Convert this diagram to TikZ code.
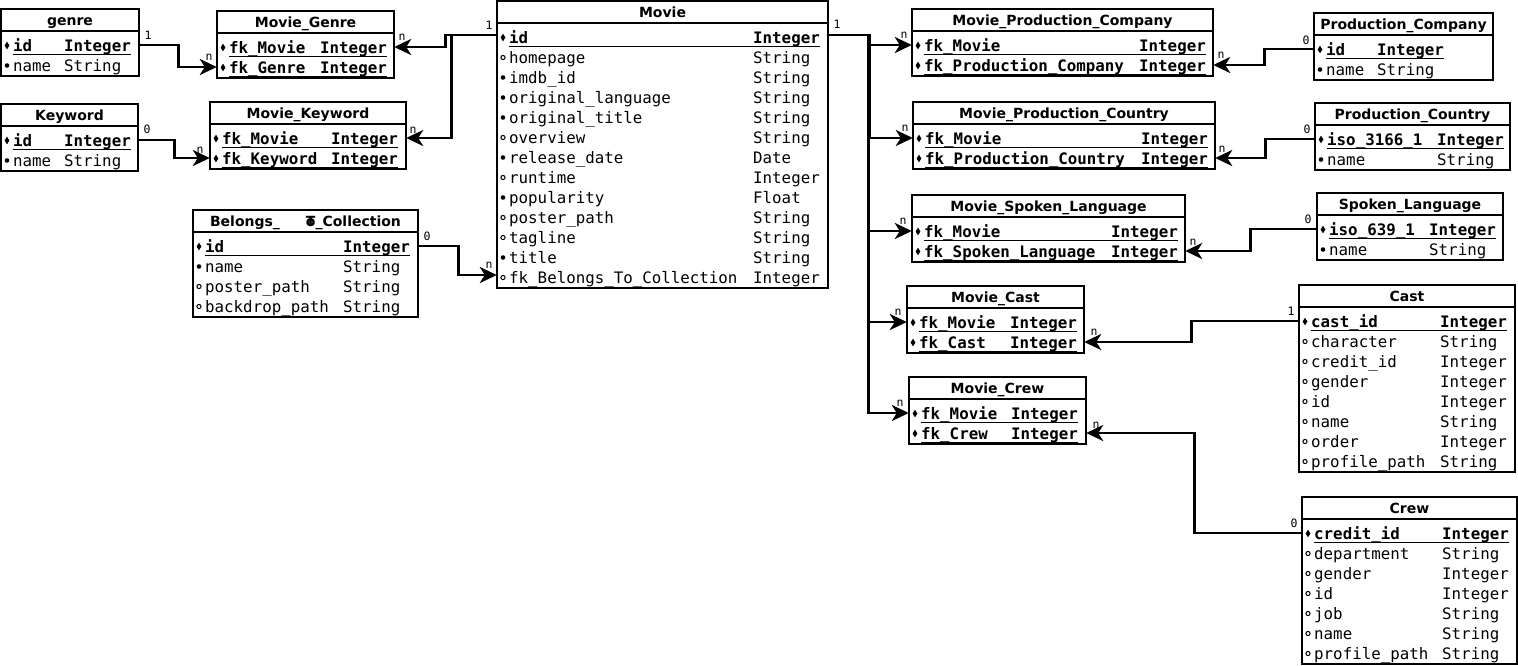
\documentclass[tikz,border=0pt]{standalone}
\usepackage{fontspec}
\setmainfont{DejaVu Sans}
\newfontfamily\monof{DejaVu Sans Mono}
\usetikzlibrary{arrows.meta}
\tikzset{
 tbox/.style={draw, line width=2.8pt, inner sep=0pt},
 sepline/.style={line width=2.8pt},
 ttl/.style={font=\bfseries\fontsize{14}{16}\selectfont, inner sep=0pt, anchor=base},
 attr/.style={font=\monof\fontsize{15.8}{18}\selectfont, inner sep=0pt, anchor=base west},
 kattr/.style={font=\monof\bfseries\fontsize{15.8}{18}\selectfont, inner sep=0pt, anchor=base west},
 ul/.style={line width=1.4pt},
 rowslot/.style={inner sep=0pt, minimum height=20pt},
 conn/.style={line width=2.8pt, -{Stealth[length=17pt,width=16pt,inset=5pt]}},
 card/.style={font=\monof\fontsize{11.5}{12}\selectfont, inner sep=0pt, anchor=center},
}
\newcommand\pkm[2]{\fill ({#1},{#2}) +(-2.4,0) -- +(0,3.8) -- +(2.4,0) -- +(0,-3.8) -- cycle;}
\newcommand\nnm[2]{\fill ({#1},{#2}) circle[radius=2.3pt];}
\newcommand\nlm[2]{\draw[line width=1pt] ({#1},{#2}) circle[radius=2.1pt];}
% table: #1 id, #2 x1, #3 top, #4 x2, #5 rows, #6 type x, #7 title
\newcommand\ERtable[7]{%
 \def\Tx{#2}\def\Ty{#3}\def\Txe{#4}\def\Tyx{#6}\def\Tid{#1}%
 \pgfmathsetmacro\Tyb{#3+36+20*(#5-1)+11}%
 \node[tbox, minimum width={#4-#2}, minimum height={\Tyb-#3}] (#1) at ({(#2+#4)/2},{(#3+\Tyb)/2}) {};
 \draw[sepline] (#2,{#3+22}) -- (#4,{#3+22});
 \node[ttl] (#1-title) at ({(#2+#4)/2},{#3+16.5}) {#7};
}
% row: #1 index, #2 marker, #3 name, #4 type
\newcommand\ERrow[4]{%
 \pgfmathsetmacro\Ry{\Ty+36+20*(#1-1)}%
 \node[rowslot, minimum width={\Txe-\Tx}] (\Tid-#1) at ({(\Tx+\Txe)/2},\Ry) {};
 #2{\Tx+6}{\Ry+0.5}
 \node[attr] (\Tid-#1n) at ({\Tx+12},{\Ry+6.5}) {#3};
 \node[attr] (\Tid-#1t) at (\Tyx,{\Ry+6.5}) {#4};
}
\newcommand\ERkey[4]{%
 \pgfmathsetmacro\Ry{\Ty+36+20*(#1-1)}%
 \node[rowslot, minimum width={\Txe-\Tx}] (\Tid-#1) at ({(\Tx+\Txe)/2},\Ry) {};
 #2{\Tx+6}{\Ry+0.5}
 \node[kattr] (\Tid-#1n) at ({\Tx+12},{\Ry+6.5}) {#3};
 \node[kattr] (\Tid-#1t) at (\Tyx,{\Ry+6.5}) {#4};
 \draw[ul] ([yshift=-3pt]\Tid-#1n.base west) -- ([yshift=-3pt]\Tid-#1t.base east);
}
\begin{document}
\begin{tikzpicture}[x=1pt,y=-1pt]
\useasboundingbox (0,0) rectangle (1518,665);

\ERtable{genre}{1}{9}{139}{2}{64}{genre}
\ERkey{1}{\pkm}{id}{Integer}
\ERrow{2}{\nnm}{name}{String}

\ERtable{mg}{217}{11}{394}{2}{320}{Movie\_Genre}
\ERkey{1}{\pkm}{fk\_Movie}{Integer}
\ERkey{2}{\pkm}{fk\_Genre}{Integer}

\ERtable{kw}{1}{104}{138}{2}{64}{Keyword}
\ERkey{1}{\pkm}{id}{Integer}
\ERrow{2}{\nnm}{name}{String}

\ERtable{mk}{210}{102}{406}{2}{331}{Movie\_Keyword}
\ERkey{1}{\pkm}{fk\_Movie}{Integer}
\ERkey{2}{\pkm}{fk\_Keyword}{Integer}

\ERtable{bt}{193}{210}{418}{4}{343}{Belongs\_\hspace{26pt}\rlap{T}o\_Collection}
\ERkey{1}{\pkm}{id}{Integer}
\ERrow{2}{\nnm}{name}{String}
\ERrow{3}{\nlm}{poster\_path}{String}
\ERrow{4}{\nlm}{backdrop\_path}{String}

\ERtable{mv}{497}{1}{828}{13}{753}{Movie}
\ERkey{1}{\pkm}{id}{Integer}
\ERrow{2}{\nlm}{homepage}{String}
\ERrow{3}{\nnm}{imdb\_id}{String}
\ERrow{4}{\nnm}{original\_language}{String}
\ERrow{5}{\nnm}{original\_title}{String}
\ERrow{6}{\nlm}{overview}{String}
\ERrow{7}{\nnm}{release\_date}{Date}
\ERrow{8}{\nlm}{runtime}{Integer}
\ERrow{9}{\nnm}{popularity}{Float}
\ERrow{10}{\nlm}{poster\_path}{String}
\ERrow{11}{\nlm}{tagline}{String}
\ERrow{12}{\nnm}{title}{String}
\ERrow{13}{\nlm}{fk\_Belongs\_To\_Collection}{Integer}

\ERtable{mpc}{912}{9}{1213}{2}{1139}{Movie\_Production\_Company}
\ERkey{1}{\pkm}{fk\_Movie}{Integer}
\ERkey{2}{\pkm}{fk\_Production\_Company}{Integer}

\ERtable{pc}{1314}{13}{1493}{2}{1377}{Production\_Company}
\ERkey{1}{\pkm}{id}{Integer}
\ERrow{2}{\nnm}{name}{String}

\ERtable{mpco}{913}{102}{1215}{2}{1141}{Movie\_Production\_Country}
\ERkey{1}{\pkm}{fk\_Movie}{Integer}
\ERkey{2}{\pkm}{fk\_Production\_Country}{Integer}

\ERtable{pco}{1315}{103}{1510}{2}{1437}{Production\_Country}
\ERkey{1}{\pkm}{iso\_3166\_1}{Integer}
\ERrow{2}{\nnm}{name}{String}

\ERtable{msl}{912}{195}{1185}{2}{1111}{Movie\_Spoken\_Language}
\ERkey{1}{\pkm}{fk\_Movie}{Integer}
\ERkey{2}{\pkm}{fk\_Spoken\_Language}{Integer}

\ERtable{sl}{1317}{193}{1503}{2}{1429}{Spoken\_Language}
\ERkey{1}{\pkm}{iso\_639\_1}{Integer}
\ERrow{2}{\nnm}{name}{String}

\ERtable{mca}{907}{286}{1084}{2}{1010}{Movie\_Cast}
\ERkey{1}{\pkm}{fk\_Movie}{Integer}
\ERkey{2}{\pkm}{fk\_Cast}{Integer}

\ERtable{mcr}{909}{377}{1086}{2}{1011}{Movie\_Crew}
\ERkey{1}{\pkm}{fk\_Movie}{Integer}
\ERkey{2}{\pkm}{fk\_Crew}{Integer}

\ERtable{cast}{1299}{285}{1515}{8}{1440}{Cast}
\ERkey{1}{\pkm}{cast\_id}{Integer}
\ERrow{2}{\nlm}{character}{String}
\ERrow{3}{\nlm}{credit\_id}{Integer}
\ERrow{4}{\nlm}{gender}{Integer}
\ERrow{5}{\nlm}{id}{Integer}
\ERrow{6}{\nlm}{name}{String}
\ERrow{7}{\nlm}{order}{Integer}
\ERrow{8}{\nlm}{profile\_path}{String}

\ERtable{crew}{1302}{497}{1517}{7}{1442}{Crew}
\ERkey{1}{\pkm}{credit\_id}{Integer}
\ERrow{2}{\nlm}{department}{String}
\ERrow{3}{\nlm}{gender}{Integer}
\ERrow{4}{\nlm}{id}{Integer}
\ERrow{5}{\nlm}{job}{String}
\ERrow{6}{\nlm}{name}{String}
\ERrow{7}{\nlm}{profile\_path}{String}

% connectors
\draw[conn] (genre-1.east) -- ++(39,0) |- (mg-2.west);
\draw[conn] ([yshift=2pt]mv-1.west) -- ++(-51,0) |- (mg-1.east);
\draw[conn] ([yshift=2pt]mv-1.west) -- ++(-45,0) |- (mk-1.east);
\draw[conn] (kw-1.east) -- ++(36,0) |- (mk-2.west);
\draw[conn] (bt-1.east) -- ++(40,0) |- ([yshift=2pt]mv-13.west);
\draw[conn] ([yshift=2pt]mv-1.east) -- ++(41,0) |- (mpc-1.west);
\draw[conn] ([yshift=2pt]mv-1.east) -- ++(41,0) |- (mpco-1.west);
\draw[conn] ([yshift=2pt]mv-1.east) -- ++(40,0) |- (msl-1.west);
\draw[conn] ([yshift=2pt]mv-1.east) -- ++(40,0) |- (mca-1.west);
\draw[conn] ([yshift=2pt]mv-1.east) -- ++(40,0) |- (mcr-1.west);
\draw[conn] (pc-1.west) -- ++(-49,0) |- (mpc-2.east);
\draw[conn] (pco-1.west) -- ++(-49,0) |- (mpco-2.east);
\draw[conn] (sl-1.west) -- ++(-66,0) |- (msl-2.east);
\draw[conn] (cast-1.west) -- ++(-107,0) |- (mca-2.east);
\draw[conn] (crew-1.west) -- ++(-107,0) |- (mcr-2.east);

% cardinalities
\node[card] (c1) at (148,35) {1};
\node[card] (c2) at (209,57) {n};
\node[card] (c3) at (489,25) {1};
\node[card] (c4) at (402,37) {n};
\node[card] (c5) at (413,130) {n};
\node[card] (c6) at (147,129) {0};
\node[card] (c7) at (200,150) {n};
\node[card] (c8) at (427,236) {0};
\node[card] (c9) at (489,265) {n};
\node[card] (c10) at (837,24) {1};
\node[card] (c11) at (904,35) {n};
\node[card] (c12) at (905,128) {n};
\node[card] (c13) at (903,221) {n};
\node[card] (c14) at (898,312) {n};
\node[card] (c15) at (900,403) {n};
\node[card] (c16) at (1306,40) {0};
\node[card] (c17) at (1221,55) {n};
\node[card] (c18) at (1307,129) {0};
\node[card] (c19) at (1222,149) {n};
\node[card] (c20) at (1308,219) {0};
\node[card] (c21) at (1193,242) {n};
\node[card] (c22) at (1291,311) {1};
\node[card] (c23) at (1094,332) {n};
\node[card] (c24) at (1294,523) {0};
\node[card] (c25) at (1096,425) {n};
\end{tikzpicture}
\end{document}
